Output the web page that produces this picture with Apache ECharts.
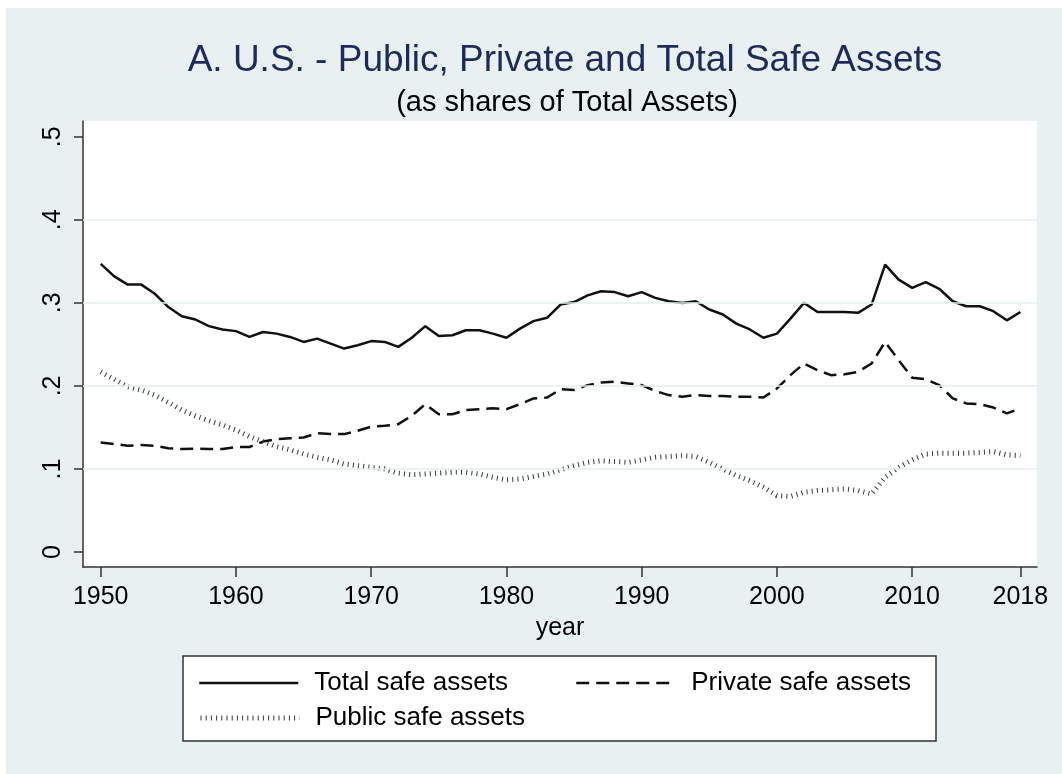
<!DOCTYPE html>
<html>
<head>
<meta charset="utf-8">
<script src="https://cdn.jsdelivr.net/npm/echarts@6/dist/echarts.min.js"></script>
<style>
  body { margin: 0; background: #fff; }
  #bg { position: absolute; left: 6px; top: 8px; width: 1056px; height: 766px; background: #e8f0f2; }
  #main { position: absolute; left: 0; top: 0; width: 1062px; height: 774px; }
</style>
</head>
<body>
<div id="bg"></div>
<div id="main"></div>
<script>
var years = [];
for (var y = 1950; y <= 2018; y++) years.push(y);

// shares of total assets
var totalSafe = [
  .347, .332, .322, .322, .311, .295, .284, .280, .272, .268,
  .266, .259, .265, .263, .259, .253, .257, .251, .245, .249,
  .254, .253, .247, .258, .272, .260, .261, .267, .267, .263,
  .258, .269, .278, .282, .298, .301, .309, .314, .313, .308,
  .313, .306, .302, .300, .302, .292, .286, .275, .268, .258,
  .263, .281, .300, .289, .289, .289, .288, .298, .346, .328,
  .318, .325, .317, .302, .296, .296, .290, .279, .289
];
var privateSafe = [
  .132, .130, .128, .129, .128, .125, .124, .1245, .124, .124,
  .1265, .1265, .133, .136, .137, .138, .143, .142, .142, .146,
  .151, .152, .154, .164, .178, .166, .166, .171, .172, .173,
  .172, .178, .185, .186, .196, .195, .201, .204, .205, .203,
  .201, .194, .189, .187, .189, .188, .188, .187, .187, .186,
  .197, .213, .227, .219, .213, .214, .217, .227, .253, .231,
  .210, .208, .201, .185, .179, .178, .174, .167, .173
];
var publicSafe = [
  .217, .208, .199, .195, .189, .180, .171, .164, .158, .153,
  .147, .139, .133, .127, .123, .118, .114, .111, .106, .104,
  .102, .100, .095, .093, .094, .095, .096, .096, .094, .090,
  .087, .088, .091, .094, .099, .104, .108, .110, .109, .108,
  .111, .114, .115, .116, .115, .108, .100, .092, .086, .078,
  .068, .067, .072, .074, .075, .076, .074, .070, .090, .102,
  .111, .118, .119, .119, .119, .120, .121, .117, .116
];

var xTicks = [1950, 1960, 1970, 1980, 1990, 2000, 2010, 2018];
var yTicks = [0, .1, .2, .3, .4, .5];
var yGrid = [.1, .2, .3, .4];

var FONT = 'Liberation Sans, Arial, sans-serif';
var AXIS = '#333';
var SOLID = { color: '#111', width: 2.5 };
var DASHED = { color: '#111', width: 2.5, type: [13, 7] };
var DOTTED = { color: '#3a3a3a', width: 5, type: [1, 4.2], cap: 'butt' };

function pairs (vals) {
  return years.map(function (yr, i) { return [yr, vals[i]]; });
}

function legendAt (name, left, top, line) {
  return {
    data: [name], left: left, top: top, padding: 0,
    itemWidth: 99, itemHeight: 14,
    itemStyle: { opacity: 0 },
    lineStyle: line,
    textStyle: { fontSize: 26, fontFamily: FONT, color: '#000', padding: [0, 0, 0, 11] },
    selectedMode: false
  };
}

var myChart = echarts.init(document.getElementById('main'));
var option = {
  animation: false,
  title: [
    {
      text: 'A. U.S. - Public, Private and Total Safe Assets',
      left: 560, top: 37, textAlign: 'center',
      textStyle: { fontSize: 37, fontWeight: 'normal', fontFamily: FONT, color: '#1e2b58' }
    },
    {
      text: '(as shares of Total Assets)',
      left: 562, top: 83, textAlign: 'center',
      textStyle: { fontSize: 29, fontWeight: 'normal', fontFamily: FONT, color: '#000' }
    }
  ],
  legend: [
    legendAt('Total safe assets', 198, 670, SOLID),
    legendAt('Private safe assets', 575, 670, DASHED),
    legendAt('Public safe assets', 198, 705, DOTTED)
  ],
  graphic: [{
    type: 'rect', z: 0,
    shape: { x: 183, y: 656, width: 753, height: 85 },
    style: { fill: '#fff', stroke: '#333', lineWidth: 1.5 }
  }],
  grid: {
    left: 83, top: 121, right: 25, bottom: 207,
    show: true, backgroundColor: '#fff', borderWidth: 0
  },
  xAxis: {
    type: 'value', min: 1948.69, max: 2019.23,
    name: 'year', nameLocation: 'middle', nameGap: 49,
    nameTextStyle: { fontSize: 25, fontFamily: FONT, color: '#000' },
    axisLine: { onZero: false, lineStyle: { color: AXIS, width: 1.5 } },
    axisTick: { customValues: xTicks, length: 10, lineStyle: { color: AXIS, width: 1.5 } },
    axisLabel: {
      customValues: xTicks, fontSize: 25, fontFamily: FONT, color: '#000', margin: 18,
      formatter: function (v) { return String(v); }
    },
    splitLine: { show: false }
  },
  yAxis: {
    type: 'value', min: -0.018, max: 0.519,
    axisLine: { show: true, lineStyle: { color: AXIS, width: 1.5 } },
    axisTick: { show: true, customValues: yTicks, length: 9, lineStyle: { color: AXIS, width: 1.5 } },
    axisLabel: {
      customValues: yTicks, rotate: 90, fontSize: 25, fontFamily: FONT, color: '#000', margin: 17,
      formatter: function (v) { return v === 0 ? '0' : String(+v.toFixed(2)).replace(/^0/, ''); }
    },
    splitLine: { show: false }
  },
  series: [
    {
      name: 'grid', type: 'line', data: [], z: 1, silent: true,
      markLine: {
        silent: true, symbol: ['none', 'none'], label: { show: false },
        lineStyle: { color: '#e6eef1', width: 1.5, type: 'solid' },
        data: yGrid.map(function (v) { return { yAxis: v }; })
      }
    },
    {
      name: 'Total safe assets', type: 'line', data: pairs(totalSafe), z: 3,
      symbol: 'none', itemStyle: { color: '#111' }, lineStyle: SOLID
    },
    {
      name: 'Private safe assets', type: 'line', data: pairs(privateSafe), z: 3,
      symbol: 'none', itemStyle: { color: '#111' }, lineStyle: DASHED
    },
    {
      name: 'Public safe assets', type: 'line', data: pairs(publicSafe), z: 3,
      symbol: 'none', itemStyle: { color: '#3a3a3a' }, lineStyle: DOTTED
    }
  ]
};
myChart.setOption(option);
</script>
</body>
</html>
